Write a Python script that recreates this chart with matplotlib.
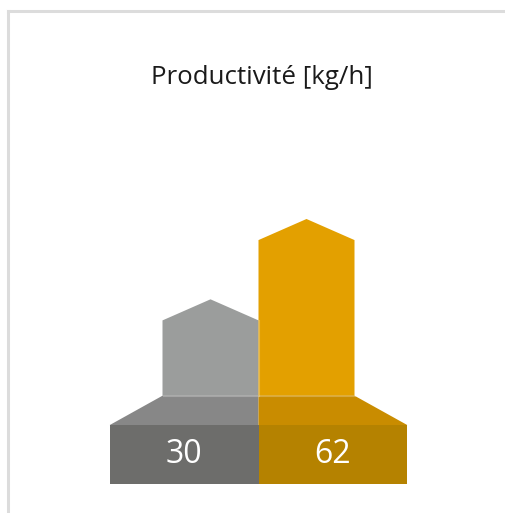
import matplotlib
matplotlib.use("Agg")
import matplotlib.pyplot as plt
from matplotlib.patches import Polygon, Rectangle
from matplotlib.lines import Line2D

# ---- data ----
categories = ["A", "B"]
values = [30, 62]
value_labels = ["30", "62"]
title = "Productivité [kg/h]"

# ---- styles ----
bar_colors = ["#9B9D9C", "#E3A000"]
trap_colors = ["#878787", "#C98C00"]
base_colors = ["#6D6D6B", "#B58200"]

W, H = 505, 513
DPI = 100
plt.rcParams['font.family'] = ['Open Sans', 'DejaVu Sans']

fig = plt.figure(figsize=(W / DPI, H / DPI), dpi=DPI)
fig.patch.set_facecolor("white")

# layout constants (pixels)
px_per_x = 96.0          # one category width
px_per_y = 2.51          # one value unit
x0_px = 210.5            # centre of first category
y0_px = 395.7            # baseline (from top)

ax = fig.add_axes([0, 0, 1, 1])
ax.set_xlim(-x0_px / px_per_x, (W - x0_px) / px_per_x)
ax.set_ylim(-(H - y0_px) / px_per_y, y0_px / px_per_y)
ax.axis("off")

roof = 8.4        # roof height in value units
flare = 0.55      # trapezoid overhang in category units
trap_h = 11.7     # trapezoid height in value units
base_h = 23.4     # rectangle height in value units

n = len(values)
for i, v in enumerate(values):
    l, r = i - 0.5, i + 0.5
    house = Polygon([(l, 0), (l, v), (i, v + roof), (r, v), (r, 0)],
                    closed=True, facecolor=bar_colors[i], edgecolor="none")
    ax.add_patch(house)

    bl = l - flare if i == 0 else l
    br = r + flare if i == n - 1 else r
    trap = Polygon([(bl, -trap_h), (l, 0), (r, 0), (br, -trap_h)],
                   closed=True, facecolor=trap_colors[i], edgecolor="none")
    ax.add_patch(trap)

    rect = Rectangle((bl, -trap_h - base_h), br - bl, base_h,
                     facecolor=base_colors[i], edgecolor="none")
    ax.add_patch(rect)

    ax.text((bl + br) / 2, -trap_h - base_h / 2, value_labels[i],
            ha="center", va="center", color="white", fontsize=23)

# subtle light separators
ax.plot([-0.5, n - 0.5], [0, 0], color="white", alpha=0.25, lw=0.8)
ax.plot([0.5, 0.5], [0, min(values)], color="white", alpha=0.25, lw=0.8)

# title
fig.text(261.5 / W, 1 - 84 / H, title, ha="center", va="baseline",
         fontsize=18.6, color="#1a1a1a")

# frame border (partially visible)
fig.add_artist(Line2D([7.5 / W, 7.5 / W], [0, 1 - 10.5 / H],
                      transform=fig.transFigure, color="#DCDCDC", lw=2.2))
fig.add_artist(Line2D([7.5 / W, 1], [1 - 10.5 / H, 1 - 10.5 / H],
                      transform=fig.transFigure, color="#DCDCDC", lw=2.2))

fig.savefig("out.png", dpi=DPI, facecolor="white")
